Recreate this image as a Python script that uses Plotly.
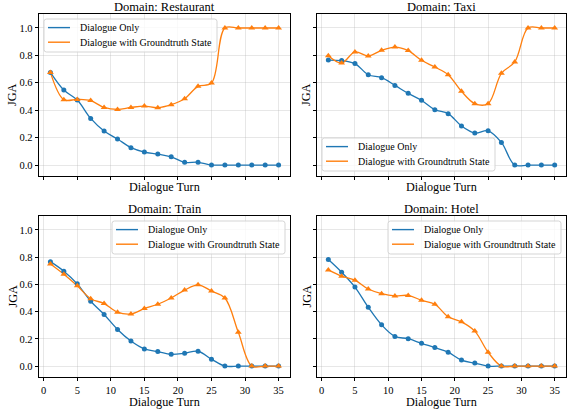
import plotly.graph_objects as go

turns = [1, 3, 5, 7, 9, 11, 13, 15, 17, 19, 21, 23, 25, 27, 29, 31, 33, 35]

domains = ["Restaurant", "Taxi", "Train", "Hotel"]
series_names = ["Dialogue Only", "Dialogue with Groundtruth State"]

restaurant_dialogue = [0.676, 0.547, 0.474, 0.34, 0.248, 0.19, 0.127, 0.095, 0.08, 0.06, 0.02, 0.02, 0.0, 0.0, 0.0, 0.0, 0.0, 0.0]
restaurant_state = [0.676, 0.477, 0.479, 0.47, 0.42, 0.406, 0.42, 0.43, 0.418, 0.44, 0.484, 0.574, 0.598, 1.0, 1.0, 1.0, 1.0, 1.0]

taxi_dialogue = [0.766, 0.762, 0.74, 0.659, 0.637, 0.581, 0.523, 0.472, 0.404, 0.375, 0.285, 0.234, 0.25, 0.165, 0.0, 0.0, 0.0, 0.0]
taxi_state = [0.798, 0.745, 0.825, 0.796, 0.837, 0.861, 0.835, 0.764, 0.715, 0.659, 0.538, 0.448, 0.448, 0.669, 0.752, 1.0, 1.0, 1.0]

train_dialogue = [0.767, 0.697, 0.604, 0.476, 0.379, 0.269, 0.184, 0.126, 0.107, 0.087, 0.095, 0.109, 0.051, 0.0, 0.0, 0.0, 0.0, 0.0]
train_state = [0.75, 0.675, 0.59, 0.495, 0.459, 0.396, 0.383, 0.422, 0.454, 0.5, 0.558, 0.597, 0.551, 0.5, 0.248, 0.0, 0.0, 0.0]

hotel_dialogue = [0.782, 0.689, 0.58, 0.432, 0.303, 0.218, 0.201, 0.167, 0.136, 0.102, 0.044, 0.022, 0.0, 0.0, 0.0, 0.0, 0.0, 0.0]
hotel_state = [0.706, 0.66, 0.631, 0.566, 0.532, 0.515, 0.519, 0.483, 0.454, 0.362, 0.325, 0.257, 0.102, 0.0, 0.0, 0.0, 0.0, 0.0]

series = [
    (restaurant_dialogue, restaurant_state),
    (taxi_dialogue, taxi_state),
    (train_dialogue, train_state),
    (hotel_dialogue, hotel_state),
]

x_ticks = [0, 5, 10, 15, 20, 25, 30, 35]
y_ticks = [0.0, 0.2, 0.4, 0.6, 0.8, 1.0]
y_tick_text = ["0.0", "0.2", "0.4", "0.6", "0.8", "1.0"]

BLUE = "#1f77b4"
ORANGE = "#ff7f0e"
COLORS = [BLUE, ORANGE]
FONT = "Liberation Serif, Times New Roman, DejaVu Serif, serif"
W, H = 567, 412

# panel pixel boxes (left, right, top, bottom)
boxes = [(39, 290, 14, 176), (317, 566, 14, 176), (39, 290, 216, 377), (317, 566, 216, 377)]
# legend placement per panel
legend_locs = ["upper left", "lower left", "upper right", "upper right"]

fig = go.Figure()

for i, (dlg, st) in enumerate(series):
    n = "" if i == 0 else str(i + 1)
    xa, ya = "x" + n, "y" + n
    fig.add_trace(go.Scatter(x=turns, y=dlg, mode="lines", line=dict(color=BLUE, width=1.3, shape="spline", smoothing=1.0),
                             name=series_names[0], xaxis=xa, yaxis=ya, showlegend=False))
    fig.add_trace(go.Scatter(x=turns, y=st, mode="lines", line=dict(color=ORANGE, width=1.3, shape="spline", smoothing=1.0),
                             name=series_names[1], xaxis=xa, yaxis=ya, showlegend=False))
    fig.add_trace(go.Scatter(x=turns, y=dlg, mode="markers", marker=dict(color=BLUE, size=5, symbol="circle"),
                             showlegend=False, xaxis=xa, yaxis=ya, hoverinfo="skip"))
    fig.add_trace(go.Scatter(x=turns, y=st, mode="markers", marker=dict(color=ORANGE, size=6, symbol="triangle-up"),
                             showlegend=False, xaxis=xa, yaxis=ya, hoverinfo="skip"))

annotations = []
shapes = []

def px(x):
    return x / W

def py(y):
    return 1 - y / H

grid_col = "rgba(176,176,176,0.3)"
layout = dict(
    width=W, height=H,
    margin=dict(l=0, r=0, t=0, b=0),
    paper_bgcolor="white", plot_bgcolor="white",
    font=dict(family=FONT, color="black", size=10.5),
    showlegend=False,
)

LEG_W, LEG_H, PAD = 173, 33, 5
for i, (l, r, t, b) in enumerate(boxes):
    n = "" if i == 0 else str(i + 1)
    bottom_row = i >= 2
    left_col = i % 2 == 0
    common = dict(
        ticks="outside", ticklen=3.5, tickwidth=0.8, tickcolor="black",
        showline=True, linecolor="black", linewidth=0.8, mirror=True,
        showgrid=True, gridcolor=grid_col, gridwidth=0.8, zeroline=False,
        tickfont=dict(size=10.5, family=FONT, color="black"),
    )
    layout["xaxis" + n] = dict(common, domain=[px(l), px(r)], anchor="y" + n, range=[-0.7, 36.7],
                               tickvals=x_ticks, showticklabels=bottom_row)
    layout["yaxis" + n] = dict(common, domain=[py(b), py(t)], anchor="x" + n, range=[-0.08, 1.102],
                               tickvals=y_ticks, ticktext=y_tick_text, showticklabels=left_col)
    cx = px((l + r) / 2)
    annotations.append(dict(text="Domain: " + domains[i], x=cx, y=py(t - 7), xref="paper", yref="paper",
                            showarrow=False, font=dict(size=12.5, family=FONT), xanchor="center", yanchor="middle"))
    ty = b + (11 if not bottom_row else 25)
    annotations.append(dict(text="Dialogue Turn", x=cx, y=py(ty), xref="paper", yref="paper", borderpad=0,
                            showarrow=False, font=dict(size=12.2, family=FONT), xanchor="center", yanchor="middle"))
    yx = 12 if left_col else 306
    annotations.append(dict(text="JGA", x=px(yx), y=py((t + b) / 2), xref="paper", yref="paper", textangle=-90,
                            showarrow=False, font=dict(size=12.2, family=FONT), xanchor="center", yanchor="middle"))

    # legend box
    loc = legend_locs[i]
    lx0 = l + PAD if "left" in loc else r - PAD - LEG_W
    ly0 = t + PAD if "upper" in loc else b - PAD - LEG_H
    lx1, ly1 = lx0 + LEG_W, ly0 + LEG_H
    rr = 2.5
    path = (f"M {px(lx0 + rr)},{py(ly0)} L {px(lx1 - rr)},{py(ly0)} Q {px(lx1)},{py(ly0)} {px(lx1)},{py(ly0 + rr)} "
            f"L {px(lx1)},{py(ly1 - rr)} Q {px(lx1)},{py(ly1)} {px(lx1 - rr)},{py(ly1)} "
            f"L {px(lx0 + rr)},{py(ly1)} Q {px(lx0)},{py(ly1)} {px(lx0)},{py(ly1 - rr)} "
            f"L {px(lx0)},{py(ly0 + rr)} Q {px(lx0)},{py(ly0)} {px(lx0 + rr)},{py(ly0)} Z")
    shapes.append(dict(type="path", path=path, xref="paper", yref="paper",
                       line=dict(color="#d0d0d0", width=0.9), fillcolor="rgba(255,255,255,0.8)", layer="above"))
    for k in range(2):
        row_y = ly0 + 8.6 + k * 14.6
        shapes.append(dict(type="line", xref="paper", yref="paper", x0=px(lx0 + 4), x1=px(lx0 + 26),
                           y0=py(row_y), y1=py(row_y), line=dict(color=COLORS[k], width=1.4), layer="above"))
        annotations.append(dict(text=series_names[k], x=px(lx0 + 34), y=py(row_y), xref="paper", yref="paper",
                                showarrow=False, font=dict(size=10, family=FONT), xanchor="left", yanchor="middle"))

layout["annotations"] = annotations
layout["shapes"] = shapes
fig.update_layout(**layout)
fig.write_html("out.html", config={"displayModeBar": False},
               post_script="document.body.style.margin='0px';document.body.style.padding='0px';")
